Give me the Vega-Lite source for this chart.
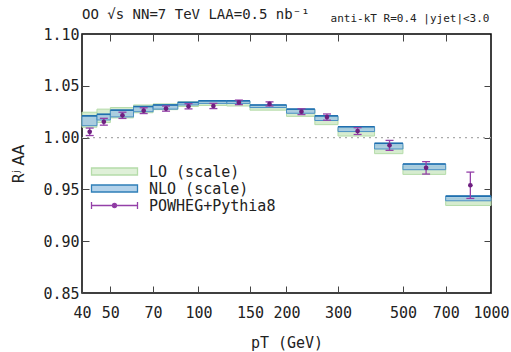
{
  "$schema": "https://vega.github.io/schema/vega-lite/v6.json",
  "width": 409,
  "height": 259,
  "autosize": "none",
  "padding": {"left": 82, "top": 34, "right": 20, "bottom": 59},
  "background": "white",
  "config": {
    "font": "DejaVu Sans Mono",
    "view": {"stroke": "black", "strokeWidth": 1.5},
    "axis": {"grid": false, "domain": false, "zindex": 1, "labelFont": "DejaVu Sans Mono", "titleFont": "DejaVu Sans Mono", "labelFontSize": 15, "titleFontSize": 15, "labelColor": "#222", "titleColor": "#222", "titleFontWeight": "normal", "tickColor": "#444", "tickWidth": 1, "labelFlush": false, "labelOverlap": false},
    "legend": {"labelFont": "DejaVu Sans Mono", "labelFontSize": 15, "labelColor": "#222", "padding": 0}
  },
  "title": {"text": "OO √s NN=7 TeV LAA=0.5 nb⁻¹", "frame": "group", "anchor": "start", "offset": -9, "fontSize": 14, "fontWeight": "normal", "font": "DejaVu Sans Mono", "color": "#222"},
  "datasets": {
    "bins": [
      {"lo": 40, "hi": 45, "mid": 42.5, "lo_min": 1.010, "lo_max": 1.0245, "nlo_min": 1.0115, "nlo_max": 1.021, "p": 1.0056, "pl": 1.002, "ph": 1.0092},
      {"lo": 45, "hi": 50, "mid": 47.5, "lo_min": 1.0145, "lo_max": 1.0275, "nlo_min": 1.017, "nlo_max": 1.0225, "p": 1.0153, "pl": 1.012, "ph": 1.0186},
      {"lo": 50, "hi": 60, "mid": 55, "lo_min": 1.019, "lo_max": 1.029, "nlo_min": 1.020, "nlo_max": 1.0265, "p": 1.0215, "pl": 1.0185, "ph": 1.0245},
      {"lo": 60, "hi": 70, "mid": 65, "lo_min": 1.024, "lo_max": 1.0315, "nlo_min": 1.025, "nlo_max": 1.030, "p": 1.026, "pl": 1.0232, "ph": 1.0288},
      {"lo": 70, "hi": 85, "mid": 77.5, "lo_min": 1.027, "lo_max": 1.0325, "nlo_min": 1.0275, "nlo_max": 1.0315, "p": 1.028, "pl": 1.0255, "ph": 1.0305},
      {"lo": 85, "hi": 100, "mid": 92.5, "lo_min": 1.030, "lo_max": 1.0345, "nlo_min": 1.0315, "nlo_max": 1.034, "p": 1.0302, "pl": 1.0277, "ph": 1.0327},
      {"lo": 100, "hi": 125, "mid": 112.5, "lo_min": 1.031, "lo_max": 1.035, "nlo_min": 1.033, "nlo_max": 1.0355, "p": 1.0305, "pl": 1.028, "ph": 1.033},
      {"lo": 125, "hi": 150, "mid": 137.5, "lo_min": 1.0305, "lo_max": 1.035, "nlo_min": 1.033, "nlo_max": 1.0355, "p": 1.034, "pl": 1.0318, "ph": 1.0362},
      {"lo": 150, "hi": 200, "mid": 175, "lo_min": 1.0265, "lo_max": 1.031, "nlo_min": 1.029, "nlo_max": 1.0315, "p": 1.0325, "pl": 1.0305, "ph": 1.0345},
      {"lo": 200, "hi": 250, "mid": 225, "lo_min": 1.0205, "lo_max": 1.027, "nlo_min": 1.0235, "nlo_max": 1.0275, "p": 1.025, "pl": 1.0222, "ph": 1.0278},
      {"lo": 250, "hi": 300, "mid": 275, "lo_min": 1.0125, "lo_max": 1.020, "nlo_min": 1.0165, "nlo_max": 1.021, "p": 1.0198, "pl": 1.0168, "ph": 1.0228},
      {"lo": 300, "hi": 400, "mid": 350, "lo_min": 1.0015, "lo_max": 1.009, "nlo_min": 1.0058, "nlo_max": 1.0105, "p": 1.0063, "pl": 1.003, "ph": 1.0096},
      {"lo": 400, "hi": 500, "mid": 450, "lo_min": 0.9845, "lo_max": 0.9925, "nlo_min": 0.989, "nlo_max": 0.9945, "p": 0.9925, "pl": 0.9877, "ph": 0.9973},
      {"lo": 500, "hi": 700, "mid": 600, "lo_min": 0.9645, "lo_max": 0.9725, "nlo_min": 0.969, "nlo_max": 0.9745, "p": 0.9708, "pl": 0.9648, "ph": 0.9768},
      {"lo": 700, "hi": 1000, "mid": 850, "lo_min": 0.9345, "lo_max": 0.9415, "nlo_min": 0.939, "nlo_max": 0.9435, "p": 0.954, "pl": 0.9413, "ph": 0.9667}
    ],
    "legend": [
      {"series": "LO (scale)"},
      {"series": "NLO (scale)"},
      {"series": "POWHEG+Pythia8"}
    ],
    "ref": [{"r": 1.0}]
  },
  "layer": [
    {
      "data": {"name": "ref"},
      "mark": {"type": "rule", "color": "#aaaaaa", "strokeDash": [2, 4], "strokeWidth": 1.2},
      "encoding": {
        "y": {"field": "r", "type": "quantitative", "scale": {"domain": [0.85, 1.10], "nice": false, "zero": false},
          "axis": {"orient": "left", "values": [0.85, 0.9, 0.95, 1.0, 1.05, 1.1], "format": ".2f", "tickSize": -7, "labelPadding": 10, "title": "Rʲ AA", "titleFont": "DejaVu Sans", "titlePadding": 16}}
      }
    },
    {
      "data": {"name": "bins"},
      "mark": {"type": "rect", "fill": "#cfe9c7", "fillOpacity": 0.85, "stroke": "#b5dca9", "strokeWidth": 1},
      "encoding": {
        "x": {"field": "lo", "type": "quantitative", "scale": {"type": "log", "domain": [40, 1000], "nice": false},
          "axis": {"orient": "bottom", "values": [40, 50, 70, 100, 150, 200, 300, 500, 700, 1000], "format": "d", "tickSize": -7, "labelPadding": 19, "title": "pT (GeV)", "titlePadding": 15}},
        "x2": {"field": "hi"},
        "y": {"field": "lo_min", "type": "quantitative", "axis": null},
        "y2": {"field": "lo_max"}
      }
    },
    {
      "data": {"name": "bins"},
      "mark": {"type": "rect", "fill": "#9fc6e2", "fillOpacity": 0.8, "stroke": "#4a90c4", "strokeWidth": 1},
      "encoding": {
        "x": {"field": "lo", "type": "quantitative", "axis": null},
        "x2": {"field": "hi"},
        "y": {"field": "nlo_min", "type": "quantitative", "axis": null},
        "y2": {"field": "nlo_max"}
      }
    },
    {
      "data": {"name": "bins"},
      "mark": {"type": "rule", "color": "#1f6fae", "strokeWidth": 1.6},
      "encoding": {
        "x": {"field": "lo", "type": "quantitative", "axis": null},
        "x2": {"field": "hi"},
        "y": {"field": "nlo_max", "type": "quantitative", "axis": null}
      }
    },
    {
      "data": {"name": "bins"},
      "mark": {"type": "rule", "color": "#9440a8", "strokeWidth": 1.3},
      "encoding": {
        "x": {"field": "mid", "type": "quantitative", "axis": null},
        "y": {"field": "pl", "type": "quantitative", "axis": null},
        "y2": {"field": "ph"}
      }
    },
    {
      "data": {"name": "bins"},
      "mark": {"type": "point", "shape": "M-1,0H1", "size": 64, "filled": false, "stroke": "#9440a8", "strokeWidth": 1.3, "opacity": 1},
      "encoding": {
        "x": {"field": "mid", "type": "quantitative", "axis": null},
        "y": {"field": "pl", "type": "quantitative", "axis": null}
      }
    },
    {
      "data": {"name": "bins"},
      "mark": {"type": "point", "shape": "M-1,0H1", "size": 64, "filled": false, "stroke": "#9440a8", "strokeWidth": 1.3, "opacity": 1},
      "encoding": {
        "x": {"field": "mid", "type": "quantitative", "axis": null},
        "y": {"field": "ph", "type": "quantitative", "axis": null}
      }
    },
    {
      "data": {"name": "bins"},
      "mark": {"type": "point", "shape": "circle", "size": 22, "filled": true, "fill": "#6e1f80", "opacity": 1},
      "encoding": {
        "x": {"field": "mid", "type": "quantitative", "axis": null},
        "y": {"field": "p", "type": "quantitative", "axis": null}
      }
    },
    {
      "data": {"name": "legend"},
      "mark": {"type": "point", "opacity": 1, "strokeWidth": 1.2},
      "encoding": {
        "x": {"field": "px", "type": "quantitative",
          "axis": {"orient": "top", "values": [50, 70, 100, 150, 200, 300, 500, 700], "labels": false, "tickSize": -7, "title": "anti-kT R=0.4 |yjet|<3.0", "titleAnchor": "end", "titleAlign": "right", "titleX": 407, "titleFontSize": 11, "titlePadding": 10}},
        "y": {"field": "py", "type": "quantitative",
          "axis": {"orient": "right", "values": [0.9, 0.95, 1.0, 1.05], "labels": false, "tickSize": -7, "title": null}},
        "fill": {"field": "series", "type": "nominal",
          "scale": {"domain": ["LO (scale)", "NLO (scale)", "POWHEG+Pythia8"], "range": ["#dff0d8", "#b3d2ea", "#7a2a8c"]},
          "legend": {"title": null, "orient": "none", "legendX": 25, "legendY": 130, "symbolSize": 100, "symbolOffset": 0, "rowPadding": 1, "labelOffset": 27, "symbolStrokeWidth": 1.3}},
        "stroke": {"field": "series", "type": "nominal",
          "scale": {"domain": ["LO (scale)", "NLO (scale)", "POWHEG+Pythia8"], "range": ["#b5dca9", "#2f7fb8", "#9440a8"]},
          "legend": {"title": null, "orient": "none", "legendX": 25, "legendY": 130, "symbolSize": 100, "symbolOffset": 0, "rowPadding": 1, "labelOffset": 27, "symbolStrokeWidth": 1.3}},
        "shape": {"field": "series", "type": "nominal",
          "scale": {"domain": ["LO (scale)", "NLO (scale)", "POWHEG+Pythia8"], "range": ["M-4.6,-0.7H4.6V0.7H-4.6Z", "M-4.6,-0.7H4.6V0.7H-4.6Z", "M-4.6,0H4.6M-4.6,-0.7V0.7M4.6,-0.7V0.7M-0.4,0A0.4,0.4,0,1,0,0.4,0A0.4,0.4,0,1,0,-0.4,0Z"]},
          "legend": {"title": null, "orient": "none", "legendX": 25, "legendY": 130, "symbolSize": 100, "symbolOffset": 0, "rowPadding": 1, "labelOffset": 27, "symbolStrokeWidth": 1.3}}
      }
    }
  ],
  "resolve": {"axis": {"x": "independent", "y": "independent"}}
}
